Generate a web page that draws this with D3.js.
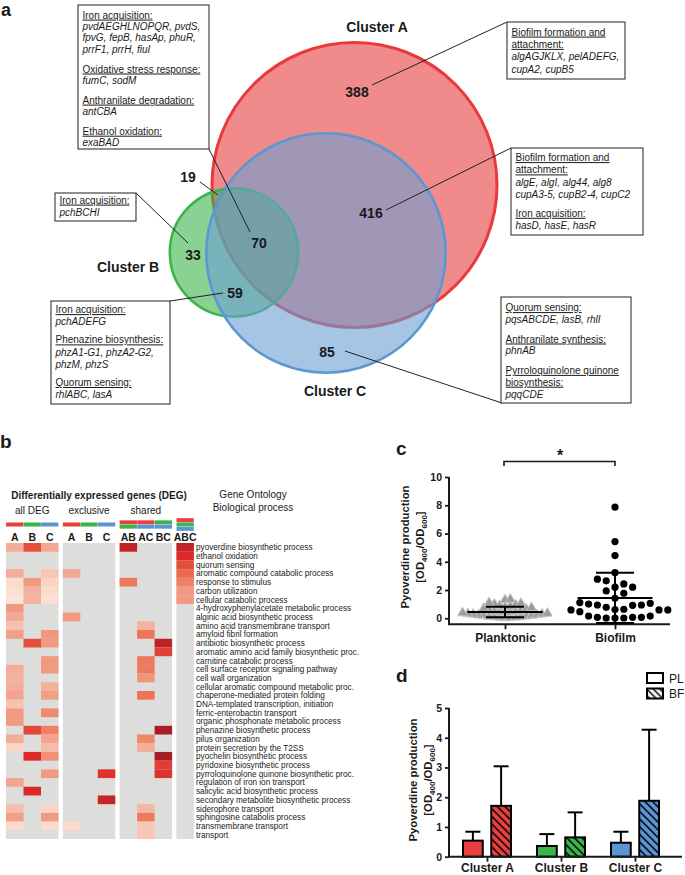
<!DOCTYPE html>
<html><head><meta charset="utf-8">
<script src="https://cdn.jsdelivr.net/npm/d3@7"></script>
<style>
body{margin:0;background:#fff}
svg{display:block}
text{font-family:"Liberation Sans",Arial,Helvetica,sans-serif;fill:#1a1a1a}
</style>
</head><body>
<svg id="chart" width="685" height="875"></svg>
<script>
// ---------------- DATA ----------------
const vennSets = ["Cluster A", "Cluster B", "Cluster C"];
const vennRegions = ["A", "B", "C", "AB", "AC", "BC", "ABC"];
const vennCounts = [388, 33, 85, 19, 416, 59, 70];

const goTerms = [
  "pyoverdine biosynthetic process", "ethanol oxidation", "quorum sensing",
  "aromatic compound catabolic process", "response to stimulus", "carbon utilization",
  "cellular catabolic process", "4-hydroxyphenylacetate metabolic process",
  "alginic acid biosynthetic process", "amino acid transmembrane transport",
  "amyloid fibril formation", "antibiotic biosynthetic process",
  "aromatic amino acid family biosynthetic proc.", "carnitine catabolic process",
  "cell surface receptor signaling pathway", "cell wall organization",
  "cellular aromatic compound metabolic proc.", "chaperone-mediated protein folding",
  "DNA-templated transcription, initiation", "ferric-enterobactin transport",
  "organic phosphonate metabolic process", "phenazine biosynthetic process",
  "pilus organization", "protein secretion by the T2SS", "pyochelin biosynthetic process",
  "pyridoxine biosynthetic process", "pyrroloquinolone quinone biosynthetic proc.",
  "regulation of iron ion transport", "salicylic acid biosynthetic process",
  "secondary metabolite biosynthetic process", "siderophore transport",
  "sphingosine catabolis process", "transmembrane transport", "transport"
];
const degColumns = ["A", "B", "C", "A", "B", "C", "AB", "AC", "BC", "ABC"];
const degColumnGroup = [0, 0, 0, 1, 1, 1, 2, 2, 2, 3];
const degGroupTitles = ["all DEG", "exclusive", "shared"];
// enrichment intensity (0 = not enriched), columns follow degColumns
const degValues = [
  [0.30, 0.65, 0.32, 0, 0, 0, 0.90, 0, 0, 0.90],
  [0, 0, 0, 0, 0, 0, 0, 0, 0, 0.80],
  [0, 0, 0, 0, 0, 0, 0, 0, 0, 0.65],
  [0.30, 0, 0.20, 0.32, 0, 0, 0, 0, 0, 0.55],
  [0.12, 0.38, 0.15, 0, 0, 0, 0.50, 0, 0, 0.48],
  [0.10, 0.28, 0.12, 0, 0, 0, 0, 0, 0, 0.38],
  [0.08, 0.28, 0.10, 0, 0, 0, 0, 0, 0, 0.38],
  [0.38, 0, 0, 0, 0, 0, 0, 0, 0, 0],
  [0.32, 0, 0, 0.38, 0, 0, 0, 0, 0, 0],
  [0.22, 0, 0, 0, 0, 0, 0, 0.28, 0, 0],
  [0.36, 0, 0.40, 0, 0, 0, 0, 0.52, 0, 0],
  [0, 0.65, 0.38, 0, 0, 0, 0, 0, 0.92, 0],
  [0, 0, 0, 0, 0, 0, 0, 0, 0.70, 0],
  [0, 0, 0.38, 0, 0, 0, 0, 0.50, 0, 0],
  [0.30, 0, 0.38, 0, 0, 0, 0, 0.50, 0, 0],
  [0.28, 0, 0, 0, 0, 0, 0, 0.40, 0, 0],
  [0.30, 0, 0.28, 0, 0, 0, 0, 0, 0, 0],
  [0.34, 0, 0.36, 0, 0, 0, 0, 0.52, 0, 0],
  [0.22, 0, 0, 0, 0, 0, 0, 0, 0, 0],
  [0.38, 0, 0.45, 0, 0, 0, 0, 0, 0, 0],
  [0.38, 0, 0, 0, 0, 0, 0, 0, 0, 0],
  [0, 0.68, 0.48, 0, 0, 0, 0, 0, 1.00, 0],
  [0.30, 0, 0.34, 0, 0, 0, 0, 0.46, 0, 0],
  [0.14, 0, 0.24, 0, 0, 0, 0, 0.30, 0, 0],
  [0, 0.80, 0.42, 0, 0, 0, 0, 0, 1.00, 0],
  [0, 0, 0, 0, 0, 0, 0, 0, 0.72, 0],
  [0, 0, 0.38, 0, 0, 0.76, 0, 0, 0.76, 0],
  [0.34, 0, 0, 0, 0, 0, 0, 0, 0, 0],
  [0, 0.80, 0, 0, 0, 0, 0, 0, 0, 0],
  [0, 0, 0, 0, 0, 0.88, 0, 0, 0, 0],
  [0.24, 0, 0.14, 0, 0, 0, 0, 0.26, 0, 0],
  [0.36, 0, 0.38, 0, 0, 0, 0, 0.50, 0, 0],
  [0.12, 0, 0.12, 0.12, 0, 0, 0, 0.20, 0, 0],
  [0, 0, 0, 0, 0, 0, 0, 0.20, 0, 0]
];

const scatterGroups = ["Planktonic", "Biofilm"];
const planktonicValues = [1.35, 1.3, 1.1, 1.05, 1.0, 0.95, 0.9, 0.85, 0.8, 0.75, 0.7, 0.65,
  0.6, 0.55, 0.5, 0.48, 0.45, 0.42, 0.4, 0.38, 0.35, 0.32, 0.3, 0.28, 0.25, 0.22, 0.2,
  0.18, 0.15, 0.12, 0.1, 0.1, 0.08, 0.06, 0.05, 0.03];
const biofilmValues = [7.87, 5.43, 4.44, 3.23, 2.77, 2.65, 2.43, 2.2, 2.2, 1.94, 1.77, 1.42,
  1.11, 1.06, 1.01, 0.94, 0.94, 0.92, 0.78, 0.64, 0.62, 0.59, 0.59, 0.59, 0.47, 0.16, 0.16,
  0.07, 0.07, 0.07, 0.02, 0.02, 0.02];
const scatterMean = [0.45, 1.44];
const scatterSdLow = [0.07, -0.34];
const scatterSdHigh = [0.82, 3.23];
const scatterTicks = [0, 2, 4, 6, 8, 10];

const barClusters = ["Cluster A", "Cluster B", "Cluster C"];
const barConditions = ["PL", "BF"];
const plMeans = [0.54, 0.36, 0.47];
const plUpper = [0.84, 0.76, 0.84];
const bfMeans = [1.71, 0.65, 1.88];
const bfUpper = [3.04, 1.49, 4.27];
const barTicks = [0, 1, 2, 3, 4, 5];

// ---------------- SETUP ----------------
const svg = d3.select("#chart");
const defs = svg.append("defs");
const setColor = {A: "#e84040", B: "#39b54a", C: "#5c96d2"};
const ink = "#1a1a1a";

function panelLabel(t, x, y, fs) {
  svg.append("text").attr("x", x).attr("y", y).attr("font-size", fs || 19)
    .attr("font-weight", "bold").text(t);
}

// ---------------- PANEL A: VENN ----------------
panelLabel("a", 1, 16, 18);
const gA = svg.append("g");
const setKeys = ["A", "B", "C"];
const setTotals = setKeys.map(k => d3.sum(vennRegions.map((r, i) => r.includes(k) ? vennCounts[i] : 0)));
const rScale = d3.scaleSqrt().domain([0, d3.max(setTotals)]).range([0, 142.5]);
const vennLayout = {
  centers: {A: [354.5, 185], B: [234, 252.5], C: [326, 253]},
  fills: {A: "#e83c3c", B: "#3cb44b", C: "#6a9fd4"},
  strokes: {A: "#e8393b", B: "#3ab54a", C: "#5b97d1"},
  widths: {A: 3, B: 2.6, C: 2.6},
  regionPos: {A: [357, 92], B: [193, 255], C: [327, 352], AB: [188, 177],
    AC: [371, 213], BC: [235, 293], ABC: [259, 243]},
  setPos: {A: [377, 27], B: [128, 267], C: [335, 391]}
};
setKeys.forEach((k, i) => {
  const [cx, cy] = vennLayout.centers[k];
  gA.append("circle").attr("cx", cx).attr("cy", cy).attr("r", rScale(setTotals[i]))
    .attr("fill", vennLayout.fills[k]).attr("fill-opacity", 0.6)
    .attr("stroke", vennLayout.strokes[k]).attr("stroke-width", vennLayout.widths[k]);
});

// annotation boxes
const boxes = [
  {x: 78, y: 5, w: 131, h: 144, y0: 15, lh: 11.4, gap: 8.3, lead: [[209, 149], [250, 232]],
   sections: [["Iron acquisition:", ["pvdAEGHLNOPQR, pvdS,", "fpvG, fepB, hasAp, phuR,", "prrF1, prrH, fiuI"]],
     ["Oxidative stress response:", ["fumC, sodM"]],
     ["Anthranilate degradation:", ["antCBA"]],
     ["Ethanol oxidation:", ["exaBAD"]]]},
  {x: 507, y: 22, w: 118, h: 57, y0: 32, lh: 12.3, gap: 6, lead: [[507, 22], [372, 85]],
   sections: [["Biofilm formation and|attachment:", ["algAGJKLX, pelADEFG,", "cupA2, cupB5"]]]},
  {x: 511, y: 148, w: 132, h: 87, y0: 157.5, lh: 12.3, gap: 6.5, lead: [[511, 148], [386, 210]],
   sections: [["Biofilm formation and|attachment:", ["algE, algI, alg44, alg8", "cupA3-5, cupB2-4, cupC2"]],
     ["Iron acquisition:", ["hasD, hasE, hasR"]]]},
  {x: 55, y: 193, w: 81, h: 28, y0: 200, lh: 12.5, gap: 6, lead: [[136, 193], [188, 243]],
   sections: [["Iron acquisition:", ["pchBCHI"]]]},
  {x: 51, y: 301, w: 119, h: 103, y0: 309.5, lh: 12.3, gap: 5.7, lead: [[170, 301], [223, 293]],
   sections: [["Iron acquisition:", ["pchADEFG"]],
     ["Phenazine biosynthesis:", ["phzA1-G1, phzA2-G2,", "phzM, phzS"]],
     ["Quorum sensing:", ["rhlABC, lasA"]]]},
  {x: 501, y: 297, w: 130, h: 106, y0: 307.5, lh: 11.8, gap: 7.8, lead: [[502, 403], [345, 351]],
   sections: [["Quorum sensing:", ["pqsABCDE, lasB, rhlI"]],
     ["Anthranilate synthesis:", ["phnAB"]],
     ["Pyrroloquinolone quinone|biosynthesis:", ["pqqCDE"]]]}
];
boxes.forEach(b => {
  gA.append("line").attr("x1", b.lead[0][0]).attr("y1", b.lead[0][1])
    .attr("x2", b.lead[1][0]).attr("y2", b.lead[1][1]).attr("stroke", "#222").attr("stroke-width", 1);
  gA.append("rect").attr("x", b.x).attr("y", b.y).attr("width", b.w).attr("height", b.h)
    .attr("fill", "#fff").attr("stroke", "#333").attr("stroke-width", 1.1);
  let y = b.y0;
  b.sections.forEach((s, si) => {
    if (si > 0) y += b.gap;
    s[0].split("|").forEach(line => {
      gA.append("text").attr("x", b.x + 4.5).attr("y", y + 3.6).attr("font-size", 10)
        .attr("text-decoration", "underline").attr("fill", "#222").text(line);
      y += b.lh;
    });
    s[1].forEach(line => {
      gA.append("text").attr("x", b.x + 4.5).attr("y", y + 3.6).attr("font-size", 10)
        .attr("font-style", "italic").attr("fill", "#222").text(line);
      y += b.lh;
    });
  });
});
// short leader for 19
gA.append("line").attr("x1", 200).attr("y1", 182).attr("x2", 218).attr("y2", 195)
  .attr("stroke", "#222").attr("stroke-width", 1);

vennRegions.forEach((r, i) => {
  const [x, y] = vennLayout.regionPos[r];
  gA.append("text").attr("x", x).attr("y", y + 5).attr("text-anchor", "middle")
    .attr("font-size", 14).attr("font-weight", "bold").text(vennCounts[i]);
});
setKeys.forEach((k, i) => {
  const [x, y] = vennLayout.setPos[k];
  gA.append("text").attr("x", x).attr("y", y + 5).attr("text-anchor", "middle")
    .attr("font-size", 14).attr("font-weight", "bold").text(vennSets[i]);
});

// ---------------- PANEL B: HEATMAP ----------------
panelLabel("b", 0, 448);
const gB = svg.append("g");
const colStep = 17.5, groupGap = 4.3;
const xColBase = d3.scaleLinear().domain([0, degColumns.length]).range([6, 6 + colStep * degColumns.length]);
const xCol = i => xColBase(i) + degColumnGroup[i] * groupGap;
const yRow = d3.scaleBand().domain(d3.range(goTerms.length)).range([543, 839]);
const heat = d3.scaleLinear().domain([0.1, 0.3, 0.45, 0.6, 0.8, 1.0])
  .range(["#fbe0d2", "#f3ad98", "#ef8a6c", "#e85a42", "#dc2a2a", "#a81c24"]);

// group panels
d3.range(4).forEach(g => {
  const cols = degColumns.map((c, i) => i).filter(i => degColumnGroup[i] === g);
  const x0 = xCol(cols[0]), x1 = xCol(cols[cols.length - 1]) + colStep;
  gB.append("rect").attr("x", x0).attr("y", yRow.range()[0]).attr("width", x1 - x0)
    .attr("height", yRow.range()[1] - yRow.range()[0]).attr("fill", "#dddddb");
  if (g < 3) {
    gB.append("text").attr("x", (x0 + x1) / 2).attr("y", 514).attr("text-anchor", "middle")
      .attr("font-size", 10).text(degGroupTitles[g]);
  }
});
// cells
degValues.forEach((row, ri) => {
  row.forEach((v, ci) => {
    if (v > 0) {
      gB.append("rect").attr("x", xCol(ci)).attr("y", yRow(ri)).attr("width", colStep)
        .attr("height", yRow.bandwidth()).attr("fill", heat(v));
    }
  });
});
// header color bars + column labels
degColumns.forEach((c, ci) => {
  const n = c.length, segH = 4.3;
  const top = 524.5 - n * segH / 2;
  c.split("").forEach((k, j) => {
    gB.append("rect").attr("x", xCol(ci)).attr("y", top + j * segH).attr("width", colStep)
      .attr("height", segH).attr("fill", setColor[k]).attr("stroke", "#fff")
      .attr("stroke-opacity", 0.5).attr("stroke-width", 0.4);
  });
  gB.append("text").attr("x", xCol(ci) + colStep / 2).attr("y", 541).attr("text-anchor", "middle")
    .attr("font-size", 10.5).attr("font-weight", "bold").text(c);
});
gB.append("text").attr("x", 99).attr("y", 499).attr("text-anchor", "middle")
  .attr("font-size", 10).attr("font-weight", "bold").text("Differentially expressed genes (DEG)");
gB.append("text").attr("x", 253).attr("y", 498).attr("text-anchor", "middle")
  .attr("font-size", 10).text("Gene Ontology");
gB.append("text").attr("x", 253).attr("y", 511).attr("text-anchor", "middle")
  .attr("font-size", 10).text("Biological process");
goTerms.forEach((t, ri) => {
  gB.append("text").attr("x", 196).attr("y", yRow(ri) + yRow.bandwidth() / 2 + 3)
    .attr("font-size", 8.2).attr("fill", "#222").text(t);
});

// ---------------- helpers for panels c/d ----------------
function yLabel(g, x, yc) {
  const t1 = g.append("text").attr("transform", `translate(${x},${yc}) rotate(-90)`)
    .attr("text-anchor", "middle").attr("font-size", 11.3).attr("font-weight", "bold");
  t1.text("Pyoverdine production");
  const t2 = g.append("text").attr("transform", `translate(${x + 15},${yc}) rotate(-90)`)
    .attr("text-anchor", "middle").attr("font-size", 11.3).attr("font-weight", "bold");
  t2.append("tspan").text("[OD");
  t2.append("tspan").attr("font-size", 8).attr("dy", 3).text("400");
  t2.append("tspan").attr("dy", -3).text("/OD");
  t2.append("tspan").attr("font-size", 8).attr("dy", 3).text("600");
  t2.append("tspan").attr("dy", -3).text("]");
}
function styleAxis(sel, fs) {
  sel.select(".domain").remove();
  sel.selectAll(".tick line").attr("stroke", ink).attr("stroke-width", 1.8);
  sel.selectAll(".tick text").attr("font-size", fs).attr("font-weight", "bold")
    .attr("fill", ink).style("font-family", '"Liberation Sans",Arial,sans-serif');
}

// ---------------- PANEL C: SCATTER ----------------
panelLabel("c", 396, 455);
const gC = svg.append("g");
const yC = d3.scaleLinear().domain([0, 10]).range([618.3, 477]);
const xC = d3.scalePoint().domain(scatterGroups).range([505, 615]);
const axisYC = gC.append("g").attr("transform", "translate(449,0)")
  .call(d3.axisLeft(yC).tickValues(scatterTicks).tickFormat(d3.format("d")).tickSize(4).tickPadding(3));
styleAxis(axisYC, 10.5);
gC.append("line").attr("x1", 449).attr("x2", 449).attr("y1", yC(10)).attr("y2", 624.3)
  .attr("stroke", ink).attr("stroke-width", 2);
const axisXC = gC.append("g").attr("transform", "translate(0,624.3)")
  .call(d3.axisBottom(xC).tickSize(5).tickPadding(4));
styleAxis(axisXC, 12);
gC.append("line").attr("x1", 448).attr("x2", 670).attr("y1", 624.3).attr("y2", 624.3)
  .attr("stroke", ink).attr("stroke-width", 2);
yLabel(gC, 409, 547);

function beeswarm(values, yScale, cx, sep, step) {
  const pts = values.map(v => ({v, y: yScale(v)})).sort((a, b) => a.v - b.v);
  const placed = [];
  pts.forEach(p => {
    for (let k = 0; k < 80; k++) {
      const off = k === 0 ? 0 : (k % 2 ? 1 : -1) * Math.ceil(k / 2) * step;
      const ok = placed.every(q => {
        const dx = q.x - (cx + off), dy = q.y - p.y;
        return dx * dx + dy * dy >= sep * sep;
      });
      if (ok) { p.x = cx + off; break; }
    }
    placed.push(p);
  });
  return placed;
}
const triPts = beeswarm(planktonicValues, yC, xC("Planktonic"), 5, 5.3);
gC.selectAll(".tri").data(triPts).enter().append("path")
  .attr("d", d3.symbol(d3.symbolTriangle).size(44))
  .attr("transform", d => `translate(${d.x},${d.y})`)
  .attr("fill", "#9c9c9c").attr("stroke", "#c9c9c9").attr("stroke-width", 0.8);
const dotPts = beeswarm(biofilmValues, yC, xC("Biofilm"), 8.4, 8.8);
gC.selectAll(".dot").data(dotPts).enter().append("circle")
  .attr("cx", d => d.x).attr("cy", d => d.y).attr("r", 3.6).attr("fill", "#000");

scatterGroups.forEach((g, i) => {
  const cx = xC(g);
  gC.append("line").attr("x1", cx - 37.5).attr("x2", cx + 37.5)
    .attr("y1", yC(scatterMean[i])).attr("y2", yC(scatterMean[i])).attr("stroke", "#000").attr("stroke-width", 2);
  gC.append("line").attr("x1", cx).attr("x2", cx)
    .attr("y1", yC(scatterSdLow[i])).attr("y2", yC(scatterSdHigh[i])).attr("stroke", "#000").attr("stroke-width", 2);
  [scatterSdLow[i], scatterSdHigh[i]].forEach(v => {
    gC.append("line").attr("x1", cx - 19).attr("x2", cx + 19)
      .attr("y1", yC(v)).attr("y2", yC(v)).attr("stroke", "#000").attr("stroke-width", 2);
  });
});
// significance bracket
gC.append("path")
  .attr("d", `M${xC("Planktonic") - 1},466 V461.5 H${xC("Biofilm")} V466`)
  .attr("fill", "none").attr("stroke", ink).attr("stroke-width", 1.6);
gC.append("text").attr("x", (xC("Planktonic") + xC("Biofilm")) / 2).attr("y", 461)
  .attr("text-anchor", "middle").attr("font-size", 16).attr("font-weight", "bold").text("*");

// ---------------- PANEL D: BARS ----------------
panelLabel("d", 396, 682);
const gD = svg.append("g");
const yD = d3.scaleLinear().domain([0, 5]).range([856.7, 708]);
const xD = d3.scalePoint().domain(barClusters).range([487, 635]);
const xSub = d3.scaleBand().domain(barConditions).range([-24, 24]).paddingInner(0.3);
const clusterKey = ["A", "B", "C"];

clusterKey.forEach(k => {
  const p = defs.append("pattern").attr("id", "hatch" + k).attr("patternUnits", "userSpaceOnUse")
    .attr("width", 5.4).attr("height", 5.4).attr("patternTransform", "rotate(-45)");
  p.append("rect").attr("width", 5.4).attr("height", 5.4).attr("fill", setColor[k]);
  p.append("line").attr("x1", 2.7).attr("x2", 2.7).attr("y1", 0).attr("y2", 5.4)
    .attr("stroke", "#000").attr("stroke-width", 1.5);
});
const hw = defs.append("pattern").attr("id", "hatchW").attr("patternUnits", "userSpaceOnUse")
  .attr("width", 4.6).attr("height", 4.6).attr("patternTransform", "rotate(-45)");
hw.append("rect").attr("width", 4.6).attr("height", 4.6).attr("fill", "#fff");
hw.append("line").attr("x1", 2.3).attr("x2", 2.3).attr("y1", 0).attr("y2", 4.6)
  .attr("stroke", "#000").attr("stroke-width", 1.5);

const barData = [];
barClusters.forEach((c, i) => {
  barData.push({c, k: clusterKey[i], cond: "PL", mean: plMeans[i], up: plUpper[i]});
  barData.push({c, k: clusterKey[i], cond: "BF", mean: bfMeans[i], up: bfUpper[i]});
});
barData.forEach(d => {
  const cx = xD(d.c) + xSub(d.cond) + xSub.bandwidth() / 2;
  gD.append("line").attr("x1", cx).attr("x2", cx).attr("y1", yD(d.mean)).attr("y2", yD(d.up))
    .attr("stroke", "#000").attr("stroke-width", 2);
  gD.append("line").attr("x1", cx - 7.5).attr("x2", cx + 7.5).attr("y1", yD(d.up)).attr("y2", yD(d.up))
    .attr("stroke", "#000").attr("stroke-width", 2);
});
barData.forEach(d => {
  gD.append("rect").attr("x", xD(d.c) + xSub(d.cond)).attr("y", yD(d.mean))
    .attr("width", xSub.bandwidth()).attr("height", yD(0) - yD(d.mean))
    .attr("fill", d.cond === "PL" ? setColor[d.k] : `url(#hatch${d.k})`)
    .attr("stroke", "#000").attr("stroke-width", 2);
});
const axisYD = gD.append("g").attr("transform", "translate(449,0)")
  .call(d3.axisLeft(yD).tickValues(barTicks).tickFormat(d3.format("d")).tickSize(4).tickPadding(3));
styleAxis(axisYD, 10.5);
gD.append("line").attr("x1", 449).attr("x2", 449).attr("y1", yD(5)).attr("y2", yD(0))
  .attr("stroke", ink).attr("stroke-width", 2);
const axisXD = gD.append("g").attr("transform", `translate(0,${yD(0)})`)
  .call(d3.axisBottom(xD).tickSize(5).tickPadding(1.5));
styleAxis(axisXD, 12);
gD.append("line").attr("x1", 448).attr("x2", 682).attr("y1", yD(0)).attr("y2", yD(0))
  .attr("stroke", ink).attr("stroke-width", 2);
yLabel(gD, 417, 780);

// legend
barConditions.forEach((c, i) => {
  const y = 673 + i * 15.5;
  gD.append("rect").attr("x", 647).attr("y", y).attr("width", 16).attr("height", 10)
    .attr("fill", c === "PL" ? "#fff" : "url(#hatchW)").attr("stroke", "#000").attr("stroke-width", 2);
  gD.append("text").attr("x", 669).attr("y", y + 9.5).attr("font-size", 12).text(c);
});
</script>
</body></html>
